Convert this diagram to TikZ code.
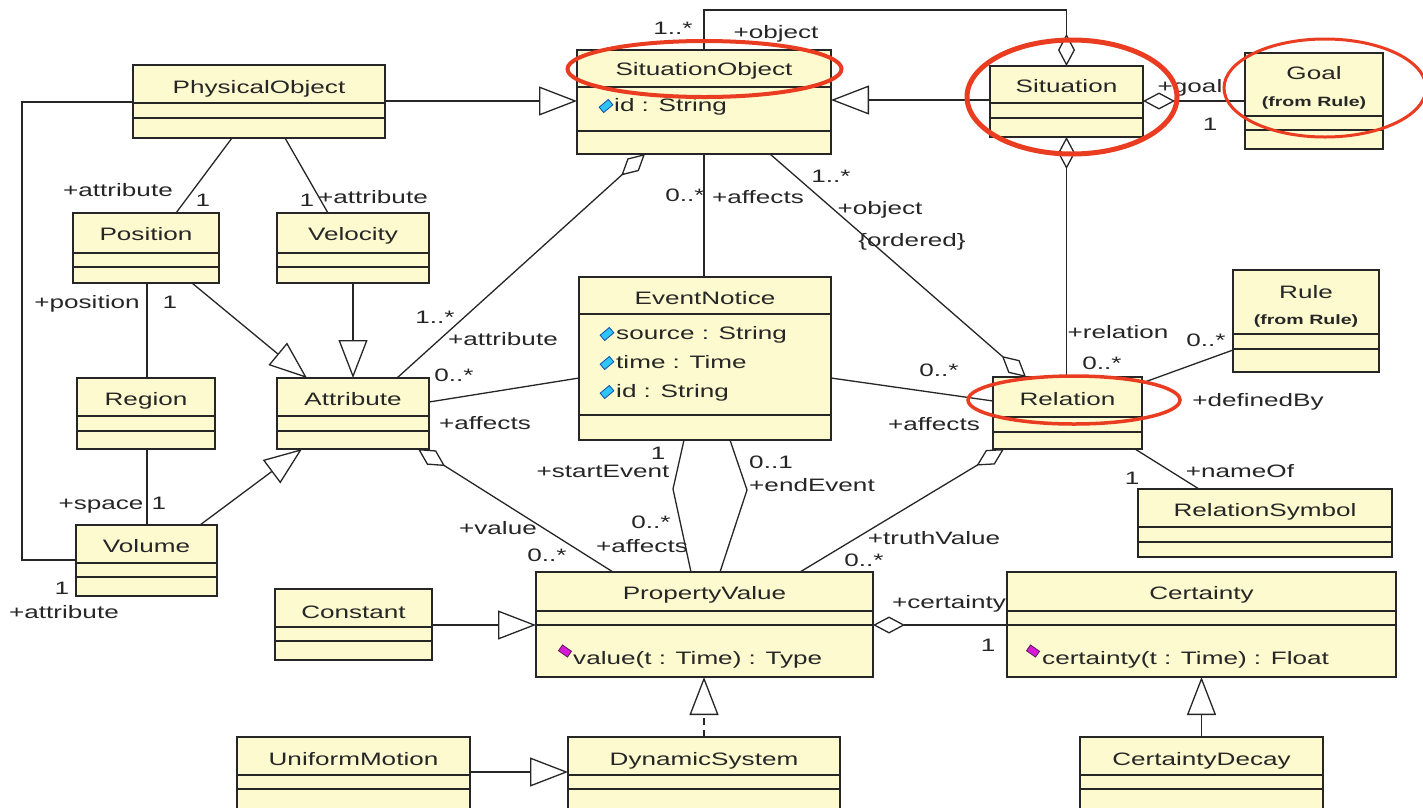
\documentclass[tikz,border=0pt]{standalone}
\usepackage{fontspec}
\setmainfont{Liberation Sans}[FakeStretch=1.45]
\usetikzlibrary{arrows.meta,calc}

\definecolor{boxfill}{RGB}{252,250,206}
\definecolor{ink}{RGB}{38,38,38}
\definecolor{hilite}{RGB}{234,60,32}
\definecolor{attrfill}{RGB}{46,196,246}
\definecolor{attredge}{RGB}{22,78,168}
\definecolor{opfill}{RGB}{214,26,214}
\definecolor{opedge}{RGB}{92,24,92}

% class box: name, left, top, right, bottom, first and second compartment rule
\newcommand\umlclass[7]{%
  \node[cls, minimum width={#4-#2}, minimum height={#5-#3}] (#1) at (#2,#3) {};
  \draw[sep] (#2,#6) -- (#4,#6) (#2,#7) -- (#4,#7);
}
% class name: box, offset from top, text
\newcommand\clsname[3]{\node[txt] (#1-name) at ($(#1.north)+(0,#2)$) {#3};}

\begin{document}
\begin{tikzpicture}[x=1pt, y=-1pt,
  cls/.style={draw=ink, fill=boxfill, line width=1.6pt, inner sep=0pt, outer sep=0pt, anchor=north west},
  sep/.style={draw=ink, line width=1.5pt},
  txt/.style={text=ink, inner sep=0pt, font=\fontsize{18}{20}\selectfont, text height=13pt, text depth=4pt},
  pkg/.style={text=ink, inner sep=0pt, font=\bfseries\fontsize{13.5}{15}\selectfont},
  memb/.style={txt, anchor=west},
  attricon/.style={draw=attredge, fill=attrfill, line width=0.8pt, minimum width=12pt, minimum height=7pt, inner sep=0pt, rotate=40},
  opicon/.style={draw=opedge, fill=opfill, line width=0.8pt, minimum width=11pt, minimum height=7pt, inner sep=0pt, rotate=-35},
  assoc/.style={draw=ink, line width=1.3pt},
  gen/.style={assoc, -{Triangle[length=38pt, width=29pt, fill=white]}},
  agg/.style={assoc, {Diamond[length=32pt, width=17pt, fill=white]}-},
  realize/.style={gen, dash pattern=on 7pt off 5pt},
  ring/.style={draw=hilite, line width=#1},
]
\useasboundingbox (0,0) rectangle (1423,807);
\fill[white] (0,0) rectangle (1423,807);

% ---- classes
\umlclass{PO}{133}{65}{385}{138}{103}{118}
\umlclass{Pos}{73}{213}{219}{283}{253}{267}
\umlclass{Vel}{277}{213}{429}{283}{253}{267}
\umlclass{Reg}{77}{378}{215}{449}{416}{431}
\umlclass{Attr}{277}{378}{429}{449}{416}{431}
\umlclass{Vol}{76}{525}{217}{596}{563}{577}
\umlclass{SO}{577}{50}{831}{154}{87}{131}
\umlclass{Sit}{990}{66}{1143}{137}{103}{118}
\umlclass{Goal}{1245}{53}{1383}{149}{116}{130}
\umlclass{EN}{579}{277}{831}{440}{314}{415}
\umlclass{Rel}{993}{377}{1142}{449}{417}{432}
\umlclass{Rule}{1233}{270}{1379}{372}{334}{349}
\umlclass{RS}{1138}{489}{1392}{557}{527}{542}
\umlclass{PV}{536}{572}{873}{677}{611}{625}
\umlclass{Const}{275}{589}{432}{660}{627}{641}
\umlclass{Cert}{1007}{572}{1396}{677}{611}{625}
\umlclass{UM}{237}{737}{470}{815}{775}{789}
\umlclass{DS}{568}{737}{840}{815}{775}{789}
\umlclass{CD}{1080}{737}{1323}{815}{775}{789}

\clsname{PO}{24}{PhysicalObject}
\clsname{Pos}{23}{Position}
\clsname{Vel}{23}{Velocity}
\clsname{Reg}{23}{Region}
\clsname{Attr}{23}{Attribute}
\clsname{Vol}{23}{Volume}
\clsname{SO}{21}{SituationObject}
\clsname{Sit}{22}{Situation}
\clsname{Goal}{22}{Goal}
\node[pkg] (Goal-pkg) at ($(Goal.north)+(0,50)$) {(from Rule)};
\clsname{EN}{23}{EventNotice}
\clsname{Rel}{24}{Relation}
\clsname{Rule}{24}{Rule}
\node[pkg] (Rule-pkg) at ($(Rule.north)+(0,51)$) {(from Rule)};
\clsname{RS}{23}{RelationSymbol}
\clsname{PV}{23}{PropertyValue}
\clsname{Const}{25}{Constant}
\clsname{Cert}{23}{Certainty}
\clsname{UM}{24}{UniformMotion}
\clsname{DS}{24}{DynamicSystem}
\clsname{CD}{24}{CertaintyDecay}

% ---- members
\node[memb] (SO-id) at (614,107) {id : String};
\node[attricon] (SO-idicon) at (606,106) {};
\node[memb] (EN-src) at (616,335) {source : String};
\node[memb] (EN-time) at (616,364) {time : Time};
\node[memb] (EN-id) at (616,393) {id : String};
\node[attricon] (EN-srcicon) at (607,334) {};
\node[attricon] (EN-timeicon) at (607,363) {};
\node[attricon] (EN-idicon) at (607,392) {};
\node[memb] (PV-op) at (573,660) {value(t : Time) : Type};
\node[opicon] (PV-opicon) at (565,651) {};
\node[memb] (Cert-op) at (1042,660) {certainty(t : Time) : Float};
\node[opicon] (Cert-opicon) at (1033,651) {};

% ---- generalizations
\draw[gen] ($(PO.north east)+(0,36)$) -- ($(SO.north west)+(0,51)$);
\draw[gen] ($(Sit.north west)+(0,34)$) -- ($(SO.north east)+(0,50)$);
\draw[gen] ($(Pos.south west)+(119,0)$) -- ($(Attr.north west)+(30,0)$);
\draw[gen] (Vel.south) -- (Attr.north);
\draw[gen] ($(Vol.north west)+(124,0)$) -- ($(Attr.south west)+(25,0)$);
\draw[gen] ($(Const.north east)+(0,36)$) -- ($(PV.north west)+(0,53)$);
\draw[gen] ($(UM.north east)+(0,35)$) -- ($(DS.north west)+(0,35)$);
\draw[gen] (CD.north) -- (CD.north |- Cert.south);
\draw[realize] (DS.north) -- (DS.north |- PV.south);

% ---- associations
\draw[assoc] ($(PO.north west)+(0,37)$) -- (22,102) -- (22,560) -- ($(Vol.north west)+(0,35)$);
\draw[assoc] ($(PO.south west)+(99,0)$) -- ($(Pos.north west)+(103,0)$);
\draw[assoc] ($(PO.south west)+(152,0)$) -- ($(Vel.north west)+(51,0)$);
\draw[assoc] ($(Pos.south west)+(74,0)$) -- ($(Reg.north west)+(70,0)$);
\draw[assoc] ($(Reg.south west)+(70,0)$) -- ($(Vol.north west)+(71,0)$);
\draw[assoc] ($(EN.north west)+(0,101)$) -- ($(Attr.north east)+(0,24)$);
\draw[assoc] ($(EN.north east)+(0,101)$) -- ($(Rel.north west)+(0,24)$);
\draw[assoc] (SO.south) -- (SO.south |- EN.north);
\draw[assoc] ($(Rel.north east)+(0,6)$) -- ($(Rule.north west)+(0,80)$);
\draw[assoc] ($(Rel.south east)+(-7,0)$) -- ($(RS.north west)+(61,0)$);
\draw[assoc] ($(EN.south west)+(105,0)$) -- (673,489) -- ($(PV.north west)+(155,0)$);
\draw[assoc] ($(EN.south west)+(151,0)$) -- (747,490) -- ($(PV.north west)+(184,0)$);

% ---- aggregations
\draw[agg] ($(SO.south west)+(68,0)$) -- ($(Attr.north west)+(120,0)$);
\draw[agg] ($(Rel.north west)+(33,0)$) -- ($(SO.south west)+(193,0)$);
\draw[agg] (Sit.north) -- ++(0,-56) -| (SO.north);
\draw[agg] (Sit.south) -- (Sit.south |- Rel.north);
\draw[agg] ($(Sit.north east)+(0,35)$) -- ($(Goal.north west)+(0,48)$);
\draw[agg] ($(Attr.south west)+(141,0)$) -- ($(PV.north west)+(77,0)$);
\draw[agg] ($(Rel.south west)+(11,0)$) -- ($(PV.north west)+(264,0)$);
\draw[agg] ($(PV.north east)+(0,53)$) -- ($(Cert.north west)+(0,53)$);

% ---- role names and multiplicities
\node[txt] (m1) at (673,30) {1..*};
\node[txt] (r1) at (776,34) {+object};
\node[txt] (r2) at (1190,88) {+goal};
\node[txt] (m2) at (1210,126) {1};
\node[txt] (r3) at (118,192) {+attribute};
\node[txt] (m3) at (203,202) {1};
\node[txt] (m4) at (307,202) {1};
\node[txt] (r4) at (373,199) {+attribute};
\node[txt] (r5) at (87,304) {+position};
\node[txt] (m5) at (170,304) {1};
\node[txt] (r6) at (101,505) {+space};
\node[txt] (m6) at (159,505) {1};
\node[txt] (m7) at (62,590) {1};
\node[txt] (r7) at (64,614) {+attribute};
\node[txt] (m8) at (435,319) {1..*};
\node[txt] (r8) at (503,341) {+attribute};
\node[txt] (m9) at (454,377) {0..*};
\node[txt] (r9) at (485,425) {+affects};
\node[txt] (m10) at (685,197) {0..*};
\node[txt] (r10) at (758,199) {+affects};
\node[txt] (m11) at (831,178) {1..*};
\node[txt] (r11) at (880,210) {+object};
\node[txt] (r12) at (912,242) {\{ordered\}};
\node[txt] (r13) at (1118,334) {+relation};
\node[txt] (m13) at (1102,365) {0..*};
\node[txt] (m14) at (1206,342) {0..*};
\node[txt] (r14) at (1258,402) {+definedBy};
\node[txt] (m15) at (939,372) {0..*};
\node[txt] (r15) at (934,426) {+affects};
\node[txt] (m16) at (1132,480) {1};
\node[txt] (r16) at (1240,473) {+nameOf};
\node[txt] (m17) at (658,455) {1};
\node[txt] (r17) at (603,473) {+startEvent};
\node[txt] (m18) at (651,524) {0..*};
\node[txt] (r18) at (642,548) {+affects};
\node[txt] (m19) at (771,464) {0..1};
\node[txt] (r19) at (812,487) {+endEvent};
\node[txt] (r20) at (498,530) {+value};
\node[txt] (m20) at (547,557) {0..*};
\node[txt] (r21) at (934,540) {+truthValue};
\node[txt] (m21) at (864,562) {0..*};
\node[txt] (r22) at (949,604) {+certainty};
\node[txt] (m22) at (988,647) {1};

% ---- highlight rings
\draw[ring=4pt] (704.5,69) ellipse [x radius=137, y radius=28];
\draw[ring=5pt] (1072,97) ellipse [x radius=105, y radius=57];
\draw[ring=3pt] (1325,88) ellipse [x radius=101, y radius=49];
\draw[ring=3.5pt] (1074,400) ellipse [x radius=106, y radius=24];
\end{tikzpicture}
\end{document}
